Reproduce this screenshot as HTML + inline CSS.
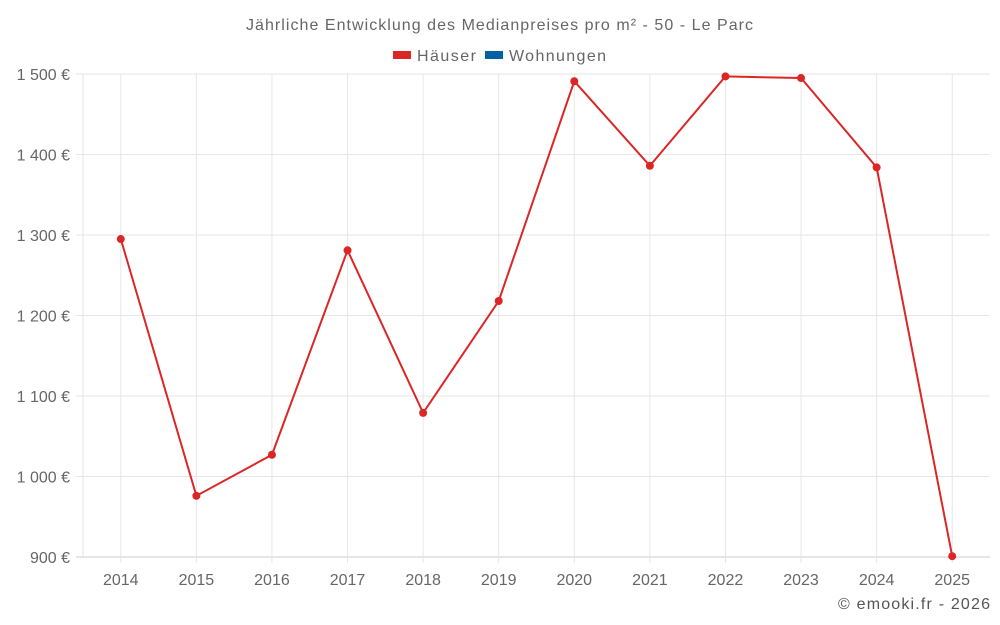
<!DOCTYPE html>
<html><head><meta charset="utf-8"><style>
body{margin:0;background:#fff;}
svg{display:block;font-family:"Liberation Sans",sans-serif;}
</style></head><body>
<svg width="1000" height="625" id="c">
<text x="246" y="30" textLength="507" font-size="16" fill="#666">Jährliche Entwicklung des Medianpreises pro m² - 50 - Le Parc</text>
<g>
<g><rect x="393" y="51" width="18" height="8" fill="#dc2626"/><text x="417" y="61" textLength="59" font-size="16" fill="#666">Häuser</text></g>
<g><rect x="485" y="51" width="18" height="8" fill="#0061a3"/><text x="509" y="61" textLength="97" font-size="16" fill="#666">Wohnungen</text></g>
</g>
<g id="grid"></g><g id="axes"></g><g id="series"></g>
<text x="838" y="609" textLength="152" font-size="16" fill="#555">© emooki.fr - 2026</text>
</svg>
<script>
const categories=["2014","2015","2016","2017","2018","2019","2020","2021","2022","2023","2024","2025"];
const haeuser=[1295,976,1027,1281,1079,1218,1491,1386,1497,1495,1384,901];
const yTicks=[900,1000,1100,1200,1300,1400,1500];
const yTickLabels=["900 €","1 000 €","1 100 €","1 200 €","1 300 €","1 400 €","1 500 €"];
const NS="http://www.w3.org/2000/svg";
const L=83,R=990,T=74,B=557,yMin=900,yMax=1500;
const step=(R-L)/categories.length;
const x=i=>L+step*(i+0.5);
const y=v=>B-(v-yMin)/(yMax-yMin)*(B-T);
function mk(tag,a,p){const e=document.createElementNS(NS,tag);for(const k in a)e.setAttribute(k,a[k]);p.appendChild(e);return e;}
const g=document.getElementById('grid'),ax=document.getElementById('axes'),s=document.getElementById('series');
mk('line',{x1:L,y1:T,x2:L,y2:B,stroke:'#e6e6e6'},g);
yTicks.forEach((v,i)=>{
 const l=mk('line',{x1:76,y1:y(v),x2:R,y2:y(v),stroke:v===yMin?'#ccc':'#e6e6e6'},g);
 
 
 const t=mk('text',{x:70,y:y(v)+6,'text-anchor':'end','font-size':16,fill:'#666'},ax);
 t.textContent=yTickLabels[i];
 
 
});
categories.forEach((c,i)=>{
 const l=mk('line',{x1:x(i),y1:T,x2:x(i),y2:B+6,stroke:'#e6e6e6'},g);
 
 
 const t=mk('text',{x:x(i),y:585,'text-anchor':'middle','font-size':16,fill:'#666'},ax);
 t.textContent=c;
 
 
});
const line=mk('polyline',{points:haeuser.map((v,i)=>x(i)+','+y(v)).join(' '),fill:'none',stroke:'#dc2626','stroke-width':2},s);


haeuser.forEach((v,i)=>{
 const p=mk('circle',{cx:x(i),cy:y(v),r:4,fill:'#dc2626'},s);
 
 
});
</script>
</body></html>
